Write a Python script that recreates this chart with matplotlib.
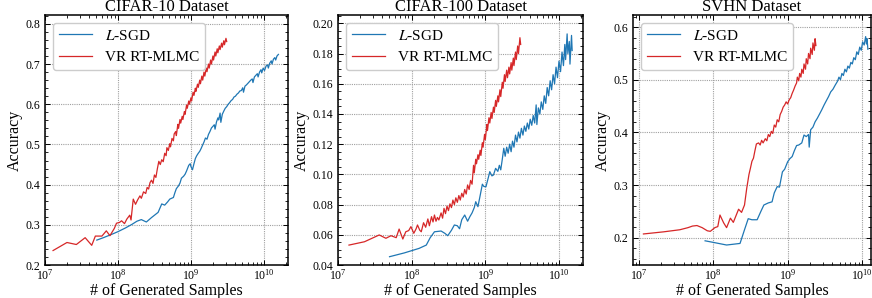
"""
plot.py - accuracy vs. number of generated samples, three datasets.
"""

import matplotlib
matplotlib.use("Agg")
import matplotlib.pyplot as plt
from matplotlib.ticker import AutoMinorLocator, LogLocator

BLUE = "#1f77b4"
RED = "#d62728"
GRID_COL = "#a0a0a0"

plt.rcParams["font.family"] = ["Liberation Serif", "DejaVu Serif"]
plt.rcParams["mathtext.fontset"] = "stix"

# ---------------------------------------------------------------- data
# CIFAR-10
c10_red_x = [1.29e7, 2.00e7, 2.69e7, 3.55e7, 4.37e7, 4.90e7, 6.03e7, 6.92e7, 7.76e7, 8.91e7,
             9.55e7, 1.05e8, 1.12e8, 1.23e8, 1.32e8, 1.45e8, 1.51e8, 1.62e8, 1.74e8, 1.86e8,
             2.00e8, 2.09e8, 2.24e8, 2.40e8, 2.51e8, 2.63e8, 2.75e8, 2.88e8, 3.02e8, 3.16e8,
             3.31e8, 3.47e8, 3.63e8, 3.80e8, 3.98e8, 4.17e8, 4.37e8, 4.57e8, 4.68e8, 4.90e8,
             5.13e8, 5.25e8, 5.50e8, 5.75e8, 5.89e8, 6.17e8, 6.31e8, 6.61e8, 6.76e8, 7.08e8,
             7.24e8, 7.59e8, 7.76e8, 8.13e8, 8.32e8, 8.71e8, 8.91e8, 9.33e8, 9.55e8, 1.00e9,
             1.02e9, 1.07e9, 1.10e9, 1.15e9, 1.17e9, 1.23e9, 1.26e9, 1.32e9, 1.35e9, 1.41e9,
             1.45e9, 1.51e9, 1.55e9, 1.62e9, 1.66e9, 1.74e9, 1.78e9, 1.86e9, 1.91e9, 2.00e9,
             2.04e9, 2.14e9, 2.19e9, 2.29e9, 2.34e9, 2.45e9, 2.51e9, 2.63e9, 2.69e9, 2.82e9,
             2.88e9, 3.02e9, 3.09e9]
c10_red_y = [0.236, 0.256, 0.251, 0.268, 0.249, 0.272, 0.272, 0.285, 0.273, 0.291,
             0.304, 0.306, 0.310, 0.303, 0.314, 0.324, 0.312, 0.364, 0.351, 0.362,
             0.372, 0.366, 0.382, 0.378, 0.393, 0.389, 0.405, 0.411, 0.403, 0.424,
             0.418, 0.440, 0.458, 0.450, 0.462, 0.457, 0.478, 0.472, 0.492, 0.485,
             0.502, 0.494, 0.515, 0.509, 0.526, 0.532, 0.522, 0.550, 0.540, 0.562,
             0.553, 0.570, 0.562, 0.582, 0.575, 0.598, 0.590, 0.608, 0.600, 0.616,
             0.608, 0.630, 0.622, 0.640, 0.632, 0.650, 0.642, 0.660, 0.651, 0.670,
             0.660, 0.680, 0.670, 0.690, 0.681, 0.700, 0.690, 0.710, 0.700, 0.720,
             0.710, 0.730, 0.720, 0.738, 0.728, 0.745, 0.736, 0.752, 0.742, 0.758,
             0.748, 0.764, 0.756]

c10_blue_x = [5.13e7, 6.31e7, 8.13e7, 1.00e8, 1.26e8, 1.55e8, 1.82e8, 2.09e8, 2.45e8, 2.88e8,
              3.55e8, 3.98e8, 4.37e8, 4.79e8, 5.13e8, 5.75e8, 6.03e8, 6.31e8, 6.76e8, 7.08e8,
              7.41e8, 7.94e8, 8.32e8, 8.71e8, 9.33e8, 9.77e8, 1.00e9, 1.05e9, 1.10e9, 1.15e9,
              1.20e9, 1.26e9, 1.32e9, 1.38e9, 1.45e9, 1.51e9, 1.58e9, 1.66e9, 1.74e9, 1.82e9,
              1.91e9, 2.00e9, 2.09e9, 2.14e9, 2.24e9, 2.34e9, 2.40e9, 2.51e9, 2.57e9, 2.69e9,
              2.82e9, 2.95e9, 3.09e9, 3.24e9, 3.39e9, 3.55e9, 3.72e9, 3.89e9, 4.07e9, 4.27e9,
              4.47e9, 4.68e9, 4.90e9, 5.13e9, 5.25e9, 5.50e9, 5.75e9, 6.03e9, 6.31e9, 6.61e9,
              6.92e9, 7.08e9, 7.41e9, 7.76e9, 8.13e9, 8.32e9, 8.71e9, 9.12e9, 9.33e9, 9.77e9,
              1.02e10, 1.07e10, 1.12e10, 1.15e10, 1.20e10, 1.26e10, 1.29e10, 1.35e10, 1.41e10,
              1.45e10, 1.51e10, 1.58e10]
c10_blue_y = [0.262, 0.268, 0.276, 0.283, 0.292, 0.301, 0.309, 0.313, 0.307, 0.318,
              0.331, 0.352, 0.349, 0.357, 0.364, 0.368, 0.380, 0.390, 0.397, 0.404,
              0.416, 0.421, 0.426, 0.434, 0.448, 0.452, 0.445, 0.437, 0.452, 0.465,
              0.472, 0.478, 0.483, 0.490, 0.499, 0.506, 0.516, 0.513, 0.525, 0.532,
              0.541, 0.545, 0.549, 0.538, 0.556, 0.566, 0.561, 0.578, 0.555, 0.575,
              0.583, 0.590, 0.594, 0.600, 0.604, 0.609, 0.612, 0.618, 0.620, 0.625,
              0.628, 0.633, 0.634, 0.641, 0.630, 0.645, 0.648, 0.652, 0.656, 0.660,
              0.663, 0.654, 0.668, 0.672, 0.676, 0.668, 0.680, 0.686, 0.678, 0.690,
              0.684, 0.695, 0.698, 0.690, 0.702, 0.708, 0.700, 0.712, 0.716,
              0.710, 0.720, 0.724]

# CIFAR-100
c100_red_x = [1.41e7, 2.29e7, 3.63e7, 4.47e7, 5.25e7, 6.17e7, 6.76e7, 7.59e7, 8.32e7, 9.12e7,
              9.77e7, 1.07e8, 1.15e8, 1.20e8, 1.29e8, 1.35e8, 1.45e8, 1.55e8, 1.66e8, 1.74e8,
              1.86e8, 1.95e8, 2.04e8, 2.14e8, 2.24e8, 2.34e8, 2.51e8, 2.63e8, 2.75e8, 2.88e8,
              3.02e8, 3.16e8, 3.31e8, 3.47e8, 3.63e8, 3.80e8, 3.98e8, 4.17e8, 4.37e8, 4.57e8,
              4.79e8, 5.01e8, 5.25e8, 5.50e8, 5.75e8, 6.03e8, 6.31e8, 6.61e8, 6.92e8, 7.08e8,
              7.41e8, 7.59e8, 7.94e8, 8.13e8, 8.51e8, 8.71e8, 9.12e8, 9.33e8, 9.77e8, 1.00e9,
              1.05e9, 1.07e9, 1.12e9, 1.15e9, 1.20e9, 1.23e9, 1.29e9, 1.32e9, 1.38e9, 1.41e9,
              1.48e9, 1.51e9, 1.58e9, 1.62e9, 1.70e9, 1.74e9, 1.82e9, 1.86e9, 1.95e9, 2.00e9,
              2.09e9, 2.14e9, 2.24e9, 2.29e9, 2.40e9, 2.45e9, 2.57e9, 2.63e9, 2.75e9, 2.82e9,
              2.95e9, 3.02e9]
c100_red_y = [0.0532, 0.0554, 0.0599, 0.0577, 0.0594, 0.0581, 0.0638, 0.0572, 0.0620, 0.0628,
              0.0654, 0.0610, 0.0640, 0.0665, 0.0630, 0.0620, 0.0680, 0.0650, 0.0705, 0.0660,
              0.0720, 0.0685, 0.0731, 0.0690, 0.0715, 0.0698, 0.0745, 0.0710, 0.0775, 0.0740,
              0.0790, 0.0760, 0.0805, 0.0780, 0.0830, 0.0800, 0.0845, 0.0815, 0.0860, 0.0830,
              0.0875, 0.0850, 0.0900, 0.0870, 0.0930, 0.0900, 0.0960, 0.0935, 0.1060, 0.1010,
              0.1100, 0.1070, 0.1130, 0.1100, 0.1160, 0.1125, 0.1210, 0.1180, 0.1265, 0.1230,
              0.1330, 0.1290, 0.1375, 0.1340, 0.1410, 0.1370, 0.1445, 0.1410, 0.1490, 0.1450,
              0.1520, 0.1480, 0.1560, 0.1515, 0.1610, 0.1570, 0.1660, 0.1615, 0.1690, 0.1640,
              0.1710, 0.1665, 0.1740, 0.1690, 0.1770, 0.1720, 0.1810, 0.1760, 0.1850, 0.1800,
              0.1905, 0.1860]

c100_blue_x = [5.01e7, 7.94e7, 1.26e8, 1.58e8, 1.78e8, 2.04e8, 2.51e8, 2.82e8, 3.09e8, 3.47e8,
               3.80e8, 4.17e8, 4.47e8, 4.79e8, 5.25e8, 5.75e8, 6.17e8, 6.61e8, 7.08e8, 7.41e8,
               7.94e8, 8.51e8, 9.12e8, 9.55e8, 1.02e9, 1.10e9, 1.15e9, 1.23e9, 1.29e9, 1.38e9,
               1.48e9, 1.55e9, 1.62e9, 1.70e9, 1.78e9, 1.86e9, 1.95e9, 2.04e9, 2.14e9, 2.24e9,
               2.34e9, 2.45e9, 2.57e9, 2.69e9, 2.82e9, 2.95e9, 3.09e9, 3.24e9, 3.39e9, 3.55e9,
               3.72e9, 3.89e9, 4.07e9, 4.27e9, 4.47e9, 4.68e9, 4.90e9, 5.01e9, 5.25e9, 5.50e9,
               5.75e9, 6.03e9, 6.31e9, 6.61e9, 6.92e9, 7.24e9, 7.59e9, 7.94e9, 8.32e9, 8.71e9,
               9.12e9, 9.55e9, 1.00e10, 1.05e10, 1.10e10, 1.15e10, 1.20e10, 1.23e10, 1.29e10,
               1.32e10, 1.38e10, 1.41e10, 1.48e10, 1.51e10]
c100_blue_y = [0.0455, 0.0480, 0.0510, 0.0532, 0.0580, 0.0620, 0.0625, 0.0610, 0.0594, 0.0630,
               0.0665, 0.0660, 0.0640, 0.0700, 0.0731, 0.0690, 0.0720, 0.0745, 0.0780, 0.0819,
               0.0786, 0.0860, 0.0935, 0.0920, 0.0918, 0.0980, 0.1018, 0.0990, 0.0996, 0.1040,
               0.1020, 0.1060, 0.1030, 0.1100, 0.1173, 0.1120, 0.1180, 0.1140, 0.1200, 0.1150,
               0.1220, 0.1180, 0.1260, 0.1215, 0.1280, 0.1240, 0.1305, 0.1260, 0.1320, 0.1285,
               0.1340, 0.1300, 0.1365, 0.1325, 0.1390, 0.1340, 0.1460, 0.1330, 0.1440, 0.1400,
               0.1480, 0.1430, 0.1520, 0.1470, 0.1575, 0.1520, 0.1620, 0.1560, 0.1660, 0.1600,
               0.1710, 0.1640, 0.1750, 0.1680, 0.1810, 0.1720, 0.1860, 0.1760, 0.1930,
               0.1800, 0.1880, 0.1730, 0.1920, 0.1820]

# SVHN
svhn_red_x = [1.15e7, 2.14e7, 3.55e7, 4.57e7, 5.25e7, 6.03e7, 7.08e7, 8.32e7, 9.12e7, 1.05e8,
              1.15e8, 1.23e8, 1.38e8, 1.51e8, 1.70e8, 1.86e8, 2.19e8, 2.40e8, 2.63e8, 2.82e8,
              3.02e8, 3.16e8, 3.31e8, 3.47e8, 3.63e8, 3.80e8, 4.07e8, 4.27e8, 4.47e8, 4.68e8,
              5.01e8, 5.25e8, 5.50e8, 5.75e8, 6.03e8, 6.31e8, 6.61e8, 6.92e8, 7.24e8, 7.59e8,
              7.94e8, 8.32e8, 8.71e8, 9.12e8, 9.55e8, 1.00e9, 1.05e9, 1.10e9, 1.15e9, 1.20e9,
              1.26e9, 1.32e9, 1.35e9, 1.41e9, 1.45e9, 1.51e9, 1.55e9, 1.62e9, 1.66e9, 1.74e9,
              1.78e9, 1.86e9, 1.91e9, 2.00e9, 2.04e9, 2.14e9, 2.19e9, 2.29e9, 2.34e9, 2.40e9]
svhn_red_y = [0.207, 0.211, 0.215, 0.219, 0.222, 0.223, 0.219, 0.213, 0.212, 0.219,
              0.221, 0.243, 0.228, 0.219, 0.237, 0.229, 0.254, 0.248, 0.262, 0.294,
              0.320, 0.332, 0.345, 0.351, 0.365, 0.378, 0.380, 0.376, 0.385, 0.380,
              0.388, 0.384, 0.396, 0.392, 0.402, 0.398, 0.414, 0.410, 0.424, 0.420,
              0.434, 0.440, 0.448, 0.452, 0.458, 0.454, 0.462, 0.466, 0.474, 0.480,
              0.488, 0.494, 0.505, 0.498, 0.512, 0.505, 0.520, 0.512, 0.530, 0.520,
              0.540, 0.530, 0.550, 0.540, 0.560, 0.548, 0.570, 0.556, 0.578, 0.565]

svhn_blue_x = [7.76e7, 1.00e8, 1.51e8, 2.29e8, 2.63e8, 2.95e8, 3.31e8, 3.89e8, 4.37e8, 4.79e8,
               5.50e8, 6.17e8, 6.61e8, 7.24e8, 7.76e8, 8.51e8, 9.12e8, 1.00e9, 1.07e9, 1.15e9,
               1.23e9, 1.32e9, 1.41e9, 1.55e9, 1.66e9, 1.78e9, 1.91e9, 1.95e9, 2.04e9, 2.19e9,
               2.34e9, 2.51e9, 2.69e9, 2.88e9, 3.09e9, 3.31e9, 3.55e9, 3.80e9, 4.07e9, 4.37e9,
               4.68e9, 4.90e9, 5.13e9, 5.37e9, 5.62e9, 5.89e9, 6.17e9, 6.46e9, 6.76e9, 7.08e9,
               7.41e9, 7.76e9, 8.13e9, 8.51e9, 8.91e9, 9.33e9, 9.77e9, 1.02e10, 1.07e10, 1.12e10,
               1.15e10, 1.17e10, 1.20e10]
svhn_blue_y = [0.194, 0.191, 0.186, 0.189, 0.215, 0.236, 0.234, 0.234, 0.250, 0.262,
               0.266, 0.268, 0.285, 0.297, 0.296, 0.325, 0.330, 0.344, 0.350, 0.354,
               0.365, 0.375, 0.376, 0.380, 0.395, 0.392, 0.396, 0.372, 0.405, 0.410,
               0.420, 0.427, 0.435, 0.443, 0.452, 0.460, 0.468, 0.477, 0.482, 0.490,
               0.497, 0.505, 0.500, 0.512, 0.508, 0.520, 0.515, 0.526, 0.522, 0.533,
               0.530, 0.542, 0.538, 0.553, 0.548, 0.562, 0.556, 0.572, 0.566, 0.582,
               0.568, 0.578, 0.558]

titles = ["CIFAR-10 Dataset", "CIFAR-100 Dataset", "SVHN Dataset"]
labels = ["$L$-SGD", "VR RT-MLMC"]


def _style_ax(ax):
    ax.set_xscale("log")
    ax.xaxis.set_major_locator(LogLocator(base=10, numticks=12))
    ax.xaxis.set_minor_locator(LogLocator(base=10, subs=range(2, 10), numticks=12))
    ax.yaxis.set_minor_locator(AutoMinorLocator())
    ax.tick_params(which="both", direction="in", top=True, right=True, labelsize=8.5)
    ax.tick_params(which="major", length=3.5, width=0.7)
    ax.tick_params(which="minor", length=2.0, width=0.6)
    ax.tick_params(axis="x", which="major", pad=2.5)
    for spine in ax.spines.values():
        spine.set_linewidth(1.1)
    ax.grid(True, which="major", color=GRID_COL, linestyle=(0, (1, 1)), linewidth=0.8)
    ax.set_axisbelow(True)


fig = plt.figure(figsize=(8.72, 2.98), dpi=100)

panels = [
    ([0.0516, 0.1107, 0.2787, 0.8389], c10_blue_x, c10_blue_y, c10_red_x, c10_red_y,
     (1e7, 2.14e10), (0.2, 0.822)),
    ([0.3876, 0.1107, 0.2810, 0.8389], c100_blue_x, c100_blue_y, c100_red_x, c100_red_y,
     (1e7, 2.12e10), (0.04, 0.2055)),
    ([0.7259, 0.1107, 0.2729, 0.8389], svhn_blue_x, svhn_blue_y, svhn_red_x, svhn_red_y,
     (8.32e6, 1.32e10), (0.148, 0.623)),
]

for (rect, bx, by, rx, ry, xl, yl), title in zip(panels, titles):
    ax = fig.add_axes(rect)
    _style_ax(ax)
    ax.plot(bx, by, color=BLUE, linewidth=0.9, label=labels[0])
    ax.plot(rx, ry, color=RED, linewidth=0.9, label=labels[1])
    ax.set_xlim(*xl)
    ax.set_ylim(*yl)
    ax.set_title(title, fontsize=12, pad=2)
    ax.set_xlabel("# of Generated Samples", fontsize=11.5, labelpad=0)
    ax.set_ylabel("Accuracy", fontsize=11.5, labelpad=2)
    ax.legend(loc="upper left", fontsize=11, handlelength=2.2,
              edgecolor="#cccccc", framealpha=1.0)

fig.savefig("out.png", dpi=100)
plt.close(fig)
